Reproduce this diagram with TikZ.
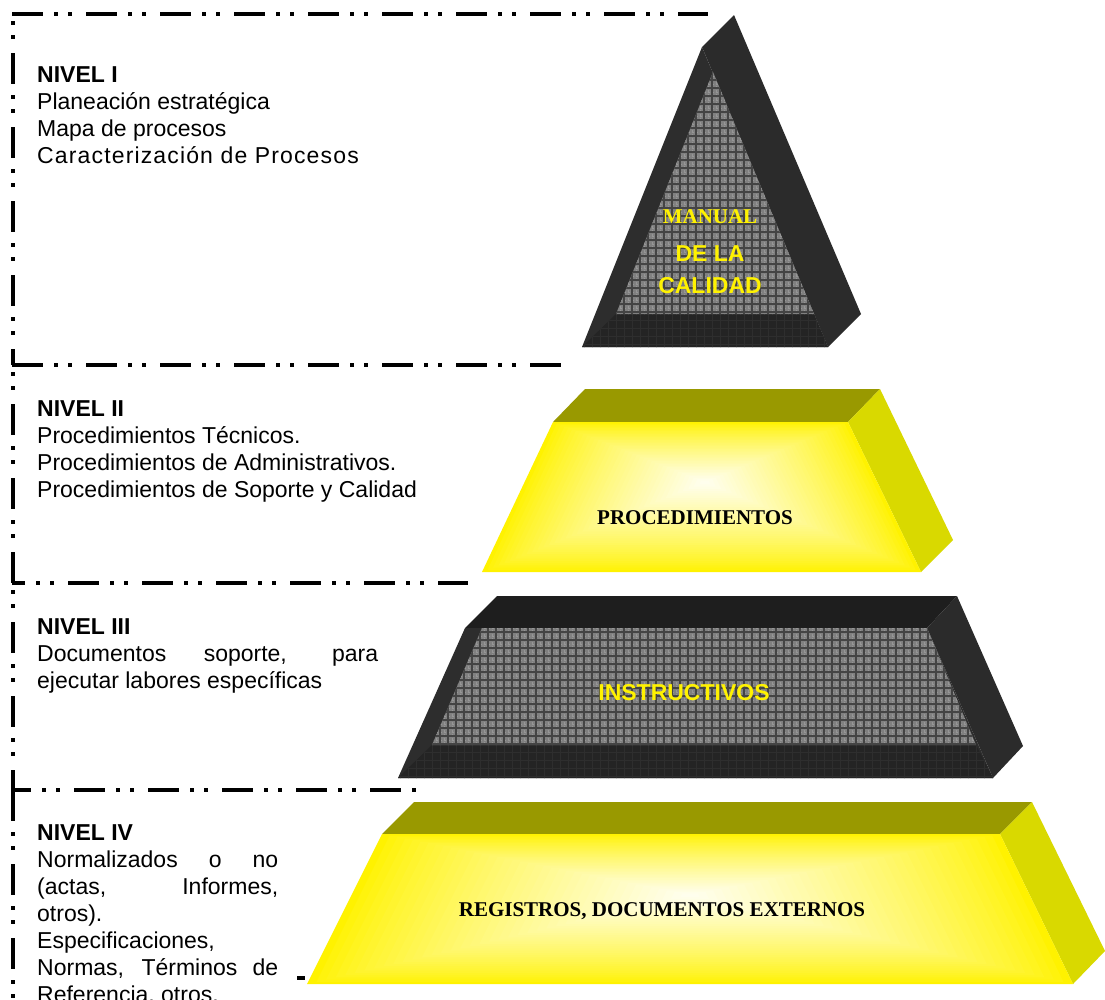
\documentclass[tikz,border=0pt]{standalone}
\usepackage{fontspec}
\setmainfont{Liberation Sans}
\newfontfamily\serifbf{Liberation Serif}
\newfontfamily\spacedsans{Liberation Sans}[LetterSpace=5.0]
\usetikzlibrary{calc}
\definecolor{olivetop}{RGB}{153,153,0}
\definecolor{oliveside}{RGB}{217,217,0}
\definecolor{darktop}{RGB}{30,30,30}
\definecolor{darkside}{RGB}{43,43,43}
\definecolor{darkframe}{RGB}{45,45,45}
\definecolor{darkbottom}{RGB}{36,36,36}
\definecolor{texgray}{RGB}{128,128,128}
\definecolor{texline}{RGB}{68,68,68}
\definecolor{texlight}{RGB}{150,150,150}
\definecolor{botline}{RGB}{46,46,46}
\newcommand{\glowfill}[5]{%
  \foreach \gi in {0,...,39}{%
    \pgfmathsetmacro\gsc{1-\gi/40}%
    \pgfmathsetmacro\gyv{100-95*pow(\gi/40+0.0001,0.8)}%
    \fill[yellow!\gyv!white] ($(#1)!\gsc!(#2)$) -- ($(#1)!\gsc!(#3)$) -- ($(#1)!\gsc!(#4)$) -- ($(#1)!\gsc!(#5)$) -- cycle;
  }%
}
\begin{document}
\begin{tikzpicture}[x=1pt,y=-1pt,
  border/.style={line width=4pt, dash pattern=on 31pt off 11pt on 4pt off 10pt on 4pt off 14pt},
  txt/.style={anchor=base west, inner sep=0pt, font=\fontsize{23}{27}\selectfont},
  lbl/.style={anchor=base, inner sep=0pt},
  sanslbl/.style={lbl, font=\fontsize{23}{27}\selectfont\bfseries},
  seriflbl/.style={lbl, font=\serifbf\fontsize{21}{25}\selectfont\bfseries},
  texgrid/.style={texline, line width=1.2pt, step=8pt},
  texfine/.style={texlight, line width=1pt, step=8pt, dash pattern=on 2pt off 2pt},
  botgrid/.style={botline, line width=1pt, step=8pt}]
\useasboundingbox (0,0) rectangle (1105,999);
\fill[white] (0,0) rectangle (1105,999);

% ---------- level borders ----------
\coordinate (h1s) at (12,14);  \coordinate (h1e) at (708,14);
\coordinate (h2s) at (12,365); \coordinate (h2e) at (568,365);
\coordinate (h3s) at (12,583); \coordinate (h3e) at (468,583);
\coordinate (h4s) at (12,790); \coordinate (h4e) at (418,790);
\coordinate (v1s) at (13,14);  \coordinate (v1e) at (13,365);
\coordinate (v2s) at (13,365); \coordinate (v2e) at (13,583);
\coordinate (v3s) at (13,583); \coordinate (v3e) at (13,790);
\coordinate (v4s) at (13,790); \coordinate (v4e) at (13,999);
\coordinate (bds) at (297,978); \coordinate (bde) at (305,978);
\draw[border] (h1s) -- (h1e);
\draw[border] (h2s) -- (h2e);
\draw[border, dash phase=18pt] (h3s) -- (h3e);
\draw[border, dash phase=12pt] (h4s) -- (h4e);
\draw[border, dash phase=35pt] (v1s) -- (v1e);
\draw[border, dash phase=35pt] (v2s) -- (v2e);
\draw[border, dash phase=35pt] (v3s) -- (v3e);
\draw[border] (v4s) -- (v4e);
\draw[line width=4pt] (bds) -- (bde);

% ---------- triangle (MANUAL DE LA CALIDAD) ----------
\coordinate (TA) at (702,47);  \coordinate (TB) at (828,347); \coordinate (TC) at (582,347);
\coordinate (TE) at (734,15);  \coordinate (TF) at (861,314);
\coordinate (Ta) at (713,72);  \coordinate (Tb) at (814,314); \coordinate (Tc) at (616,314);
\fill[darkside] (TA) -- (TE) -- (TF) -- (TB) -- cycle;
\fill[darkframe] (TA) -- (TB) -- (TC) -- cycle;
\begin{scope}
  \clip (Tc) -- (Tb) -- (TB) -- (TC) -- cycle;
  \fill[darkbottom] (570,300) rectangle (840,350);
  \draw[botgrid] (570,352) grid (840,300);
\end{scope}
\begin{scope}
  \clip (Ta) -- (Tb) -- (Tc) -- cycle;
  \fill[texgray] (600,60) rectangle (830,320);
  \draw[texfine, shift={(4pt,4pt)}] (600,320) grid (830,56);
  \draw[texgrid] (600,320) grid (830,56);
\end{scope}
\node[seriflbl, text=yellow] (manual) at (710,223) {MANUAL};
\node[sanslbl, text=yellow] (dela) at (710,261) {DE LA};
\node[sanslbl, text=yellow] (calidad) at (710,293) {CALIDAD};

% ---------- PROCEDIMIENTOS ----------
\coordinate (PA) at (553,422); \coordinate (PB) at (848,422);
\coordinate (PC) at (921,572); \coordinate (PD) at (482,572);
\coordinate (PE) at (585,389); \coordinate (PF) at (880,389); \coordinate (PG) at (953,540);
\coordinate (Pc) at (705,482);
\fill[olivetop] (PE) -- (PF) -- (PB) -- (PA) -- cycle;
\fill[oliveside] (PB) -- (PF) -- (PG) -- (PC) -- cycle;
\glowfill{Pc}{PA}{PB}{PC}{PD}
\node[seriflbl] (proc) at (695,524) {PROCEDIMIENTOS};

% ---------- INSTRUCTIVOS ----------
\coordinate (IA) at (465,628); \coordinate (IB) at (927,628);
\coordinate (IC) at (993,778); \coordinate (ID) at (398,778);
\coordinate (IE) at (497,596); \coordinate (IF) at (957,596); \coordinate (IG) at (1023,746);
\coordinate (Ia) at (482,628); \coordinate (Ic) at (976,745); \coordinate (Id) at (432,745);
\fill[darktop] (IE) -- (IF) -- (IB) -- (IA) -- cycle;
\fill[darkside] (IB) -- (IF) -- (IG) -- (IC) -- cycle;
\fill[darkframe] (IA) -- (IB) -- (IC) -- (ID) -- cycle;
\begin{scope}
  \clip (Id) -- (Ic) -- (IC) -- (ID) -- cycle;
  \fill[darkbottom] (390,740) rectangle (1000,780);
  \draw[botgrid] (390,784) grid (1000,736);
\end{scope}
\begin{scope}
  \clip (Ia) -- (IB) -- (Ic) -- (Id) -- cycle;
  \fill[texgray] (420,620) rectangle (990,750);
  \draw[texfine, shift={(4pt,4pt)}] (420,752) grid (990,616);
  \draw[texgrid] (420,752) grid (990,616);
\end{scope}
\node[sanslbl, text=yellow] (instr) at (684,700) {INSTRUCTIVOS};

% ---------- REGISTROS ----------
\coordinate (RA) at (382,834); \coordinate (RB) at (1000,834);
\coordinate (RC) at (1073,984); \coordinate (RD) at (307,984);
\coordinate (RE) at (414,802); \coordinate (RF) at (1032,802); \coordinate (RG) at (1105,951);
\coordinate (Rc) at (690,895);
\fill[olivetop] (RE) -- (RF) -- (RB) -- (RA) -- cycle;
\fill[oliveside] (RB) -- (RF) -- (RG) -- (RC) -- cycle;
\glowfill{Rc}{RA}{RB}{RC}{RD}
\node[seriflbl] (regis) at (662,916) {REGISTROS, DOCUMENTOS EXTERNOS};

% ---------- texts ----------
\node[txt] (n1t) at (37,82) {\bfseries NIVEL I};
\node[txt] (n1a) at (37,109) {Planeación estratégica};
\node[txt] (n1b) at (37,136) {Mapa de procesos};
\node[txt, font=\spacedsans\fontsize{23}{27}\selectfont] (n1c) at (37,163) {Caracterización de Procesos};

\node[txt] (n2t) at (37,416) {\bfseries NIVEL II};
\node[txt] (n2a) at (37,443) {Procedimientos Técnicos.};
\node[txt] (n2b) at (37,470) {Procedimientos de Administrativos.};
\node[txt] (n2c) at (37,497) {Procedimientos de Soporte y Calidad};

\node[txt] (n3t) at (37,634) {\bfseries NIVEL III};
\node[txt] (n3a) at (37,661) {\makebox[341pt][s]{Documentos soporte, para}};
\node[txt] (n3b) at (37,688) {ejecutar labores específicas};

\node[txt] (n4t) at (37,840) {\bfseries NIVEL IV};
\node[txt] (n4a) at (37,867) {\makebox[241pt][s]{Normalizados o no}};
\node[txt] (n4b) at (37,894) {\makebox[241pt][s]{(actas, Informes,}};
\node[txt] (n4c) at (37,921) {otros).};
\node[txt] (n4d) at (37,948) {Especificaciones,};
\node[txt] (n4e) at (37,975) {\makebox[241pt][s]{Normas, Términos de}};
\node[txt] (n4f) at (37,1002) {Referencia, otros.};
\end{tikzpicture}
\end{document}
